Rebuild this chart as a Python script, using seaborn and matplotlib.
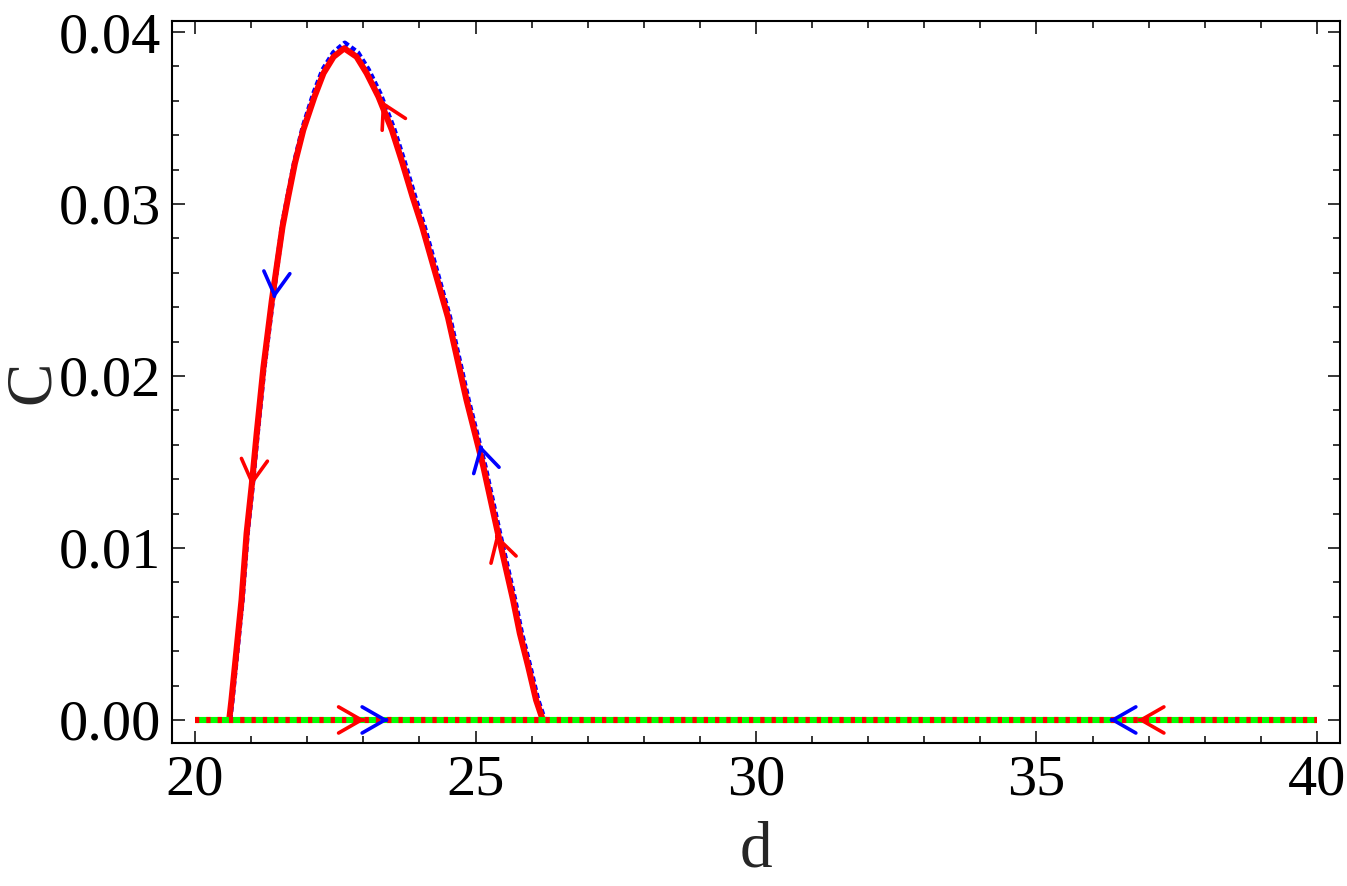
import numpy as np
import pandas as pd
import matplotlib
matplotlib.use("Agg")
import matplotlib.pyplot as plt
import seaborn as sns
from matplotlib.ticker import MultipleLocator, FormatStrFormatter

# ---- data ----
red_d = [20.61, 20.65, 20.71, 20.77, 20.83, 20.92, 21.01, 21.10, 21.22, 21.37, 21.56,
         21.66, 21.78, 21.93, 22.13, 22.29, 22.47, 22.66, 22.88, 23.06, 23.27, 23.51,
         23.70, 23.88, 24.05, 24.51, 24.84, 25.14, 25.40, 25.67, 25.79, 25.94, 26.08, 26.20]
red_c = [0.0, 0.00116, 0.0031, 0.00504, 0.00698, 0.01085, 0.0136, 0.01667, 0.0205, 0.0244, 0.02868,
         0.0304, 0.03236, 0.0343, 0.03624, 0.0376, 0.03856, 0.03905, 0.03856, 0.0376, 0.03624, 0.0343,
         0.03236, 0.0304, 0.02868, 0.0234, 0.0186, 0.01473, 0.01085, 0.00698, 0.00504, 0.0031, 0.00116, 0.0]

blue_d = [20.62, 20.66, 20.72, 20.78, 20.84, 20.93, 21.02, 21.11, 21.23, 21.38, 21.56,
          21.66, 21.78, 21.93, 22.12, 22.28, 22.47, 22.67, 22.90, 23.09, 23.30, 23.54,
          23.73, 23.91, 24.08, 24.54, 24.87, 25.17, 25.43, 25.70, 25.82, 25.97, 26.11, 26.23]
blue_c = [0.0, 0.00116, 0.0031, 0.00504, 0.00698, 0.01085, 0.0136, 0.01667, 0.0205, 0.0244, 0.02880,
          0.0305, 0.03250, 0.0345, 0.03645, 0.0378, 0.03880, 0.03935, 0.03880, 0.0378, 0.03640, 0.0344,
          0.03245, 0.0305, 0.02875, 0.0234, 0.0186, 0.01473, 0.01085, 0.00698, 0.00504, 0.0031, 0.00116, 0.0]

base_d = [20.0, 40.0]
base_c = [0.0, 0.0]

arrow_d = [21.41, 21.01, 23.33, 25.08, 25.37, 23.03, 23.45, 36.30, 36.80]
arrow_c = [0.0245, 0.0136, 0.0360, 0.0160, 0.0108, 0.0, 0.0, 0.0, 0.0]
arrow_angle = [264, 264, 117, 104, 106, 0, 0, 180, 180]
arrow_color = ["#0000FF", "#FF0000", "#FF0000", "#0000FF", "#FF0000",
               "#FF0000", "#0000FF", "#0000FF", "#FF0000"]

x_ticks = [20, 25, 30, 35, 40]
y_ticks = [0.00, 0.01, 0.02, 0.03, 0.04]

# ---- style ----
sns.set_style("ticks")
plt.rcParams['font.family'] = ['Liberation Serif', 'DejaVu Serif']

fig = plt.figure(figsize=(13.47, 8.86), dpi=100)
ax = fig.add_axes([172/1347, 1-743/886, (1340-172)/1347, (743-21)/886])

red_df = pd.DataFrame({"d": red_d, "C": red_c})
blue_df = pd.DataFrame({"d": blue_d, "C": blue_c})
base_df = pd.DataFrame({"d": base_d, "C": base_c})

sns.lineplot(data=blue_df, x="d", y="C", sort=False, estimator=None, ax=ax,
             color="#0000FF", linewidth=3.8, zorder=2)
ax.lines[-1].set_dashes((1.0, 0.6))
sns.lineplot(data=red_df, x="d", y="C", sort=False, estimator=None, ax=ax,
             color="#FF0000", linewidth=4.4, zorder=3)
ax.lines[-1].set_solid_joinstyle("round")
sns.lineplot(data=base_df, x="d", y="C", sort=False, estimator=None, ax=ax,
             color="#00FF00", linewidth=4.4, zorder=4)
ax.lines[-1].set_solid_capstyle("butt")
sns.lineplot(data=base_df, x="d", y="C", sort=False, estimator=None, ax=ax,
             color="#FF0000", linewidth=4.4, zorder=5)
ax.lines[-1].set_dashes((0.7, 1.15))
ax.lines[-1].set_dash_capstyle("butt")

for d, c, ang, col in zip(arrow_d, arrow_c, arrow_angle, arrow_color):
    a = np.deg2rad(ang)
    ax.annotate("", xy=(d, c), xytext=(-2*np.cos(a), -2*np.sin(a)),
                textcoords="offset points",
                arrowprops=dict(arrowstyle="->,head_length=0.82,head_width=0.47",
                                color=col, lw=2.6, shrinkA=0, shrinkB=0,
                                mutation_scale=20),
                zorder=6)

ax.set_xlim(19.59, 40.41)
ax.set_ylim(-0.00134, 0.04064)
ax.set_xticks(x_ticks)
ax.set_yticks(y_ticks)
ax.xaxis.set_minor_locator(MultipleLocator(1))
ax.yaxis.set_minor_locator(MultipleLocator(0.002))
ax.yaxis.set_major_formatter(FormatStrFormatter("%.2f"))
ax.tick_params(which="both", direction="in", top=True, right=True, width=1.1,
               colors="black", labelsize=42)
ax.tick_params(which="major", length=9, pad=8)
ax.tick_params(which="minor", length=5)
for s in ax.spines.values():
    s.set_linewidth(1.5)
    s.set_color("black")

ax.set_xlabel("d", fontsize=47, labelpad=11)
ax.set_ylabel("C", fontsize=47, labelpad=-3)

fig.savefig("out.png", dpi=100, facecolor="white")
